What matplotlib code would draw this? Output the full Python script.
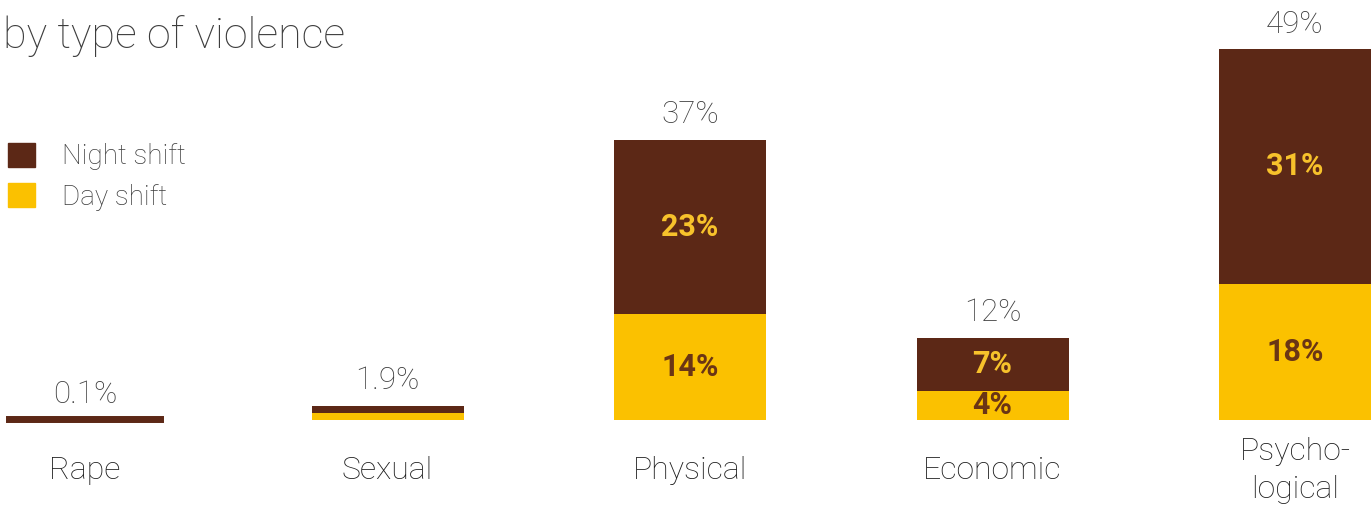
import matplotlib
matplotlib.use("Agg")
import matplotlib.pyplot as plt
from matplotlib.patches import Patch

categories = ["Rape", "Sexual", "Physical", "Economic", "Psycho-\nlogical"]
day_values = [0.0, 0.9, 14.0, 3.9, 18.0]
night_values = [0.1, 1.0, 23.0, 7.0, 31.0]
total_labels = ["0.1%", "1.9%", "37%", "12%", "49%"]
day_labels = ["", "", "14%", "4%", "18%"]
night_labels = ["", "", "23%", "7%", "31%"]
series_names = ["Night shift", "Day shift"]

NIGHT = "#5C2816"
DAY = "#FBC100"
TXT = "#3d3d3d"
FAM = ["Roboto", "DejaVu Sans"]

fig = plt.figure(figsize=(13.72, 5.08), dpi=100)
ax = fig.add_axes([0, 0, 1, 1])
ax.set_xlim(-0.281, 4.2545)
ax.set_ylim(-11.62, 55.48)
ax.axis("off")

x = list(range(len(categories)))
w = 0.5025
ax.bar(x, day_values, width=w, color=DAY, linewidth=0)
nb = ax.bar(x, night_values, width=w, bottom=day_values, color=NIGHT, linewidth=0)
# tiny value (0.1%) needs an outline to stay visible
nb[0].set_edgecolor(NIGHT)
nb[0].set_linewidth(4.3)

for i in x:
    top = day_values[i] + night_values[i]
    ax.annotate(total_labels[i], (i, top), xytext=(0, 7.5), textcoords="offset points",
                ha="center", va="bottom", fontsize=22.5, color=TXT,
                family=FAM, fontweight="light")
    if day_labels[i]:
        ax.text(i, day_values[i] / 2, day_labels[i], ha="center", va="center",
                fontsize=22, fontweight="bold", color="#6a3515", family=FAM)
    if night_labels[i]:
        ax.text(i, day_values[i] + night_values[i] / 2, night_labels[i], ha="center",
                va="center", fontsize=22, fontweight="bold", color="#F7C22B", family=FAM)
    ax.text(i, -6.7, categories[i], ha="center", va="center", fontsize=23,
            color="#1e1e1e", family=FAM, fontweight="light", linespacing=1.4)

fig.text(0.002, 0.905, "by type of violence", ha="left", va="baseline",
         fontsize=31, color=TXT, family=FAM, fontweight="light")

handles = [Patch(color=NIGHT), Patch(color=DAY)]
leg = ax.legend(handles, series_names, loc="upper left", bbox_to_anchor=(0.0, 0.735),
                frameon=False, handlelength=0.95, handleheight=0.95,
                handletextpad=1.0, labelspacing=0.45, borderaxespad=0.0, borderpad=0.3,
                prop={"family": FAM, "weight": "light", "size": 20})
for t in leg.get_texts():
    t.set_color(TXT)

fig.savefig("out.png", dpi=100)
